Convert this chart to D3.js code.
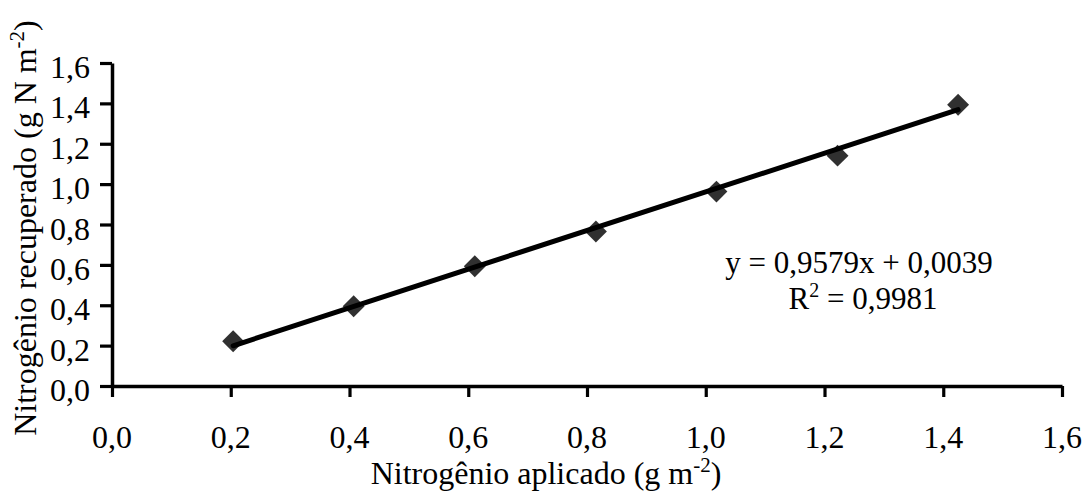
<!DOCTYPE html>
<html>
<head>
<meta charset="utf-8">
<script src="https://cdn.jsdelivr.net/npm/d3@7"></script>
<style>
  html, body { margin: 0; padding: 0; background: #fff; }
  svg { display: block; }
  svg text { font-family: "Liberation Serif", "Times New Roman", "DejaVu Serif", serif; fill: #000; }
</style>
</head>
<body>
<svg id="chart" width="1086" height="492"></svg>
<script>
// Applied nitrogen (g m-2) and recovered nitrogen (g N m-2)
const aplicado   = [0.204, 0.407, 0.611, 0.815, 1.018, 1.222, 1.425];
const recuperado = [0.222, 0.395, 0.593, 0.765, 0.963, 1.141, 1.393];

// Linear fit reported on the chart
const ajuste = [0.9579, 0.0039]; // slope, intercept
const r2 = 0.9981;

const xTicks = [0, 0.2, 0.4, 0.6, 0.8, 1.0, 1.2, 1.4, 1.6];
const yTicks = [0, 0.2, 0.4, 0.6, 0.8, 1.0, 1.2, 1.4, 1.6];

const fmt = v => v.toFixed(1).replace(".", ",");
const fmt4 = v => v.toFixed(4).replace(".", ",");
const SERIF = '"Liberation Serif", "Times New Roman", serif';

const svg = d3.select("#chart").attr("font-family", SERIF);
const x = d3.scaleLinear().domain([0, 1.6]).range([112, 1062]);
const y = d3.scaleLinear().domain([0, 1.6]).range([386, 63]);

// X axis
const xAxis = svg.append("g").attr("transform", `translate(0,${y(0)})`)
  .call(d3.axisBottom(x).tickValues(xTicks).tickSize(11).tickSizeOuter(0).tickFormat(""));
xAxis.select(".domain").attr("stroke", "#000").attr("stroke-width", 3.5);
xAxis.selectAll(".tick line").attr("stroke", "#000").attr("stroke-width", 3.2);

// Y axis
const yAxis = svg.append("g").attr("transform", `translate(${x(0)},0)`)
  .call(d3.axisLeft(y).tickValues(yTicks).tickSize(12).tickSizeOuter(0).tickFormat(""));
yAxis.select(".domain").attr("stroke", "#000").attr("stroke-width", 3.5);
yAxis.selectAll(".tick line").attr("stroke", "#000").attr("stroke-width", 3.2);

// Tick labels
svg.append("g").attr("font-family", SERIF).selectAll("text").data(xTicks).join("text")
  .attr("x", d => x(d)).attr("y", 448)
  .attr("text-anchor", "middle").attr("font-size", 32)
  .text(fmt);

svg.append("g").attr("font-family", SERIF).selectAll("text").data(yTicks).join("text")
  .attr("x", 90).attr("y", d => y(d) + 15)
  .attr("text-anchor", "end").attr("font-size", 32)
  .text(fmt);

// Data markers (diamonds)
svg.append("g").selectAll("path").data(aplicado).join("path")
  .attr("transform", (d, i) => `translate(${x(d)},${y(recuperado[i])}) rotate(45)`)
  .attr("d", d3.symbol().type(d3.symbolSquare).size(240))
  .attr("fill", "#303030");

// Trend line over the data range
const xr = d3.extent(aplicado);
const line = d3.line().x(d => x(d)).y(d => y(ajuste[0] * d + ajuste[1]));
svg.append("path").datum(xr)
  .attr("d", line)
  .attr("fill", "none").attr("stroke", "#000")
  .attr("stroke-width", 5).attr("stroke-linecap", "round");

// Equation label
const eq = svg.append("g").attr("font-size", 31).attr("text-anchor", "middle").attr("font-family", SERIF);
eq.append("text").attr("x", 859).attr("y", 273)
  .text(`y = ${fmt4(ajuste[0])}x + ${fmt4(ajuste[1])}`);
const r2t = eq.append("text").attr("x", 863).attr("y", 309);
r2t.append("tspan").text("R");
r2t.append("tspan").attr("font-size", 20).attr("dy", -12).text("2");
r2t.append("tspan").attr("dy", 12).text(` = ${fmt4(r2)}`);

// Axis titles
const xt = svg.append("text").attr("x", 546).attr("y", 484)
  .attr("text-anchor", "middle").attr("font-size", 32);
xt.append("tspan").text("Nitrogênio aplicado (g m");
xt.append("tspan").attr("font-size", 21).attr("dy", -12).text("-2");
xt.append("tspan").attr("dy", 12).text(")");

const yt = svg.append("text")
  .attr("transform", "translate(36,228) rotate(-90)")
  .attr("text-anchor", "middle").attr("font-size", 32);
yt.append("tspan").text("Nitrogênio recuperado (g N m");
yt.append("tspan").attr("font-size", 21).attr("dy", -12).text("-2");
yt.append("tspan").attr("dy", 12).text(")");
</script>
</body>
</html>
